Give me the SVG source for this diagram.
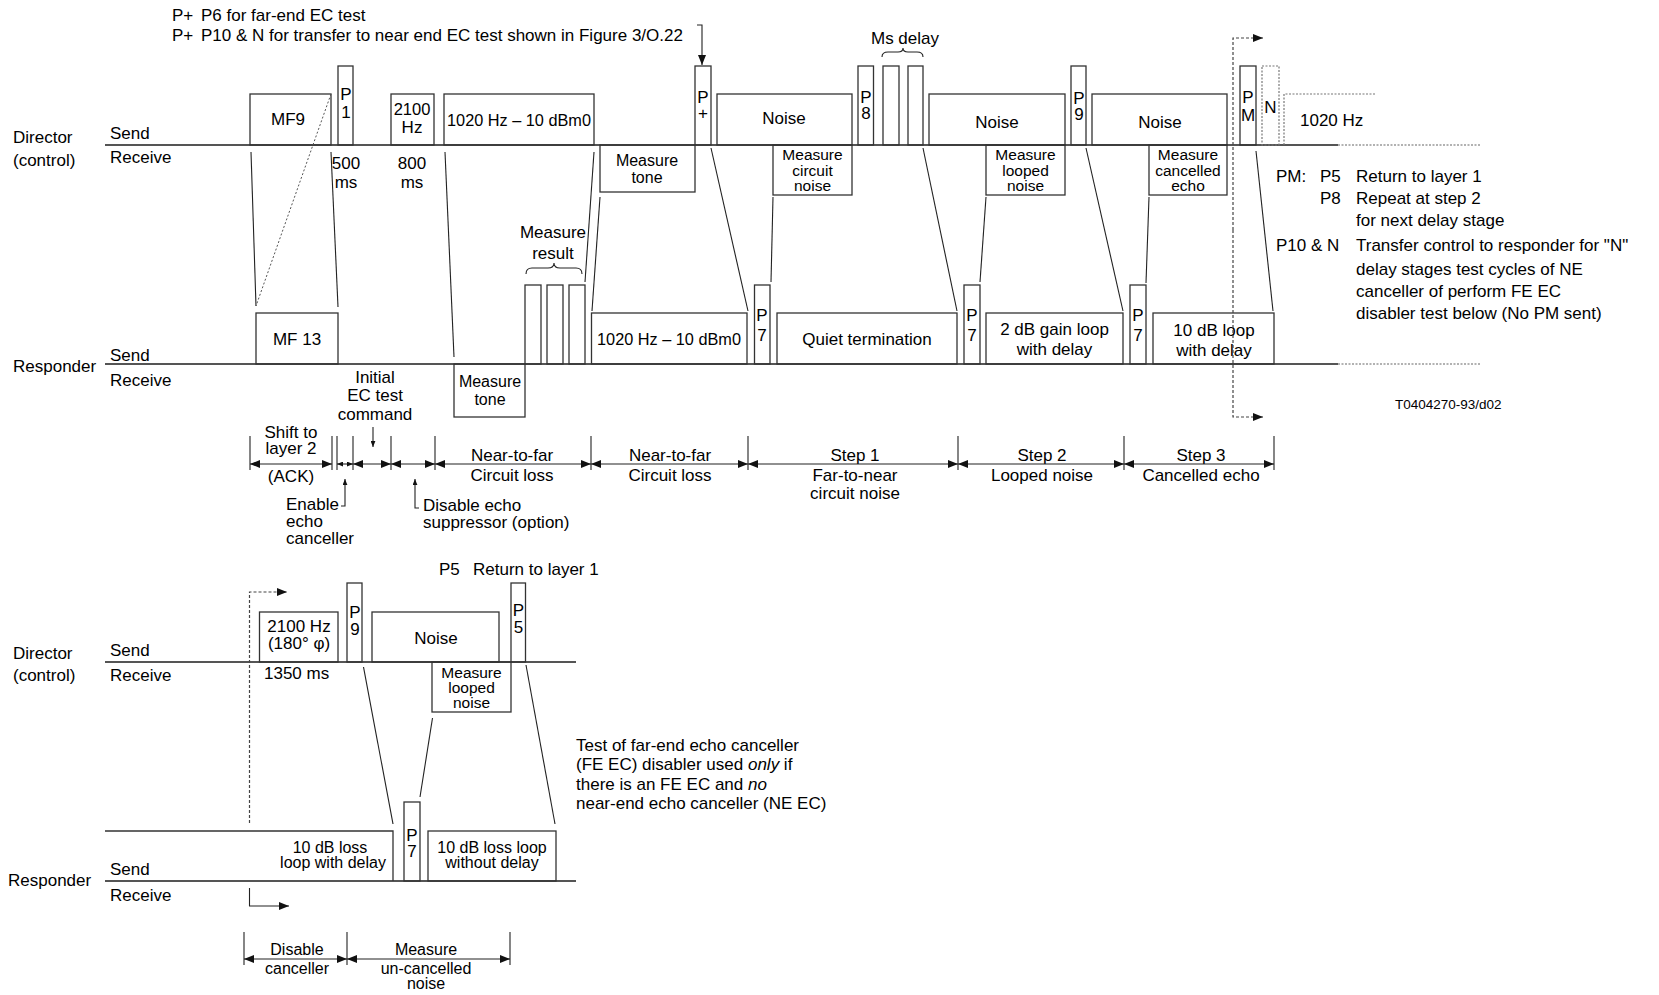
<svg xmlns="http://www.w3.org/2000/svg" width="1659" height="995" viewBox="0 0 1659 995">
<style>
text{font-family:"Liberation Sans",Arial,sans-serif;font-size:17px;fill:#000}
.m{text-anchor:middle}
.f16{font-size:16px}
.f15{font-size:15.5px}
.sm{font-size:13.5px}
.bx{fill:none;stroke:#333;stroke-width:1.3}
.dbx{fill:none;stroke:#777;stroke-width:1.2;stroke-dasharray:2 1.5}
.base{stroke:#555;stroke-width:2;fill:none}
.dbase{stroke:#999;stroke-width:1.5;stroke-dasharray:2 1.5;fill:none}
.ln{stroke:#222;stroke-width:1.1;fill:none}
.dot{stroke:#555;stroke-width:1;stroke-dasharray:2 2;fill:none}
.dash{stroke:#444;stroke-width:1.2;stroke-dasharray:3 2;fill:none}
.tk{stroke:#222;stroke-width:1.1}
.dim{stroke:#222;stroke-width:1.1;fill:none;marker-start:url(#ah);marker-end:url(#ah)}
.dims{stroke:#222;stroke-width:1.1;fill:none;marker-start:url(#ahs);marker-end:url(#ahs)}
</style>
<defs>
<marker id="ah" viewBox="0 0 10 8" refX="10" refY="4" markerWidth="10" markerHeight="8" markerUnits="userSpaceOnUse" orient="auto-start-reverse"><path d="M0,0L10,4L0,8z" fill="#111"/></marker>
<marker id="ahs" viewBox="0 0 10 8" refX="10" refY="4" markerWidth="6" markerHeight="5" markerUnits="userSpaceOnUse" orient="auto-start-reverse"><path d="M0,0L10,4L0,8z" fill="#111"/></marker>
</defs>
<rect width="1659" height="995" fill="#fff"/>

<!-- top notes -->
<g id="notes-top">
<text x="172" y="21">P+</text><text x="201" y="21">P6 for far-end EC test</text>
<text x="172" y="41">P+</text><text x="201" y="41">P10 &amp; N for transfer to near end EC test shown in Figure 3/O.22</text>
<text class="m" x="905" y="44">Ms delay</text>
<text class="m" x="553" y="238">Measure</text><text class="m" x="553" y="259">result</text>
</g>

<!-- labels -->
<g id="labels">
<text x="13" y="143">Director</text><text x="13" y="166">(control)</text>
<text x="110" y="139">Send</text><text x="110" y="163">Receive</text>
<text x="13" y="372">Responder</text>
<text x="110" y="361">Send</text><text x="110" y="386">Receive</text>
<text x="13" y="659">Director</text><text x="13" y="681">(control)</text>
<text x="110" y="656">Send</text><text x="110" y="681">Receive</text>
<text x="8" y="886">Responder</text>
<text x="110" y="875">Send</text><text x="110" y="901">Receive</text>
</g>

<!-- base lines -->
<g id="baselines">
<line class="base" x1="105" y1="145" x2="1338" y2="145"/>
<line class="dbase" x1="1338" y1="145" x2="1481" y2="145"/>
<line class="base" x1="105" y1="364" x2="1338" y2="364"/>
<line class="dbase" x1="1338" y1="364" x2="1481" y2="364"/>
<line class="base" x1="105" y1="662" x2="576" y2="662"/>
<line class="base" x1="105" y1="881" x2="576" y2="881"/>
</g>

<!-- director send nodes -->
<g id="mf9"><rect class="bx" x="250" y="94" width="81" height="51"/><text class="m" x="288" y="125">MF9</text></g>
<g id="p1"><rect class="bx" x="338" y="66" width="15" height="79"/><text class="m" x="346" y="100">P</text><text class="m" x="346" y="118">1</text>
<text class="m" x="346" y="169">500</text><text class="m" x="346" y="188">ms</text></g>
<g id="t2100"><rect class="bx" x="391" y="94" width="43" height="51"/><text class="m" x="412" y="115" style="font-size:16.5px">2100</text><text class="m" x="412" y="133">Hz</text>
<text class="m" x="412" y="169">800</text><text class="m" x="412" y="188">ms</text></g>
<g id="t1020d"><rect class="bx" x="444" y="94" width="150" height="51"/><text class="m" x="519" y="126" style="font-size:16.3px">1020 Hz – 10 dBm0</text></g>
<g id="pplus"><rect class="bx" x="695" y="66" width="16" height="79"/><text class="m" x="703" y="103">P</text><text class="m" x="703" y="119">+</text></g>
<g id="noise1"><rect class="bx" x="717" y="94" width="135" height="51"/><text class="m" x="784" y="124">Noise</text></g>
<g id="p8"><rect class="bx" x="858" y="66" width="15.5" height="79"/><text class="m" x="866" y="103">P</text><text class="m" x="866" y="119">8</text></g>
<g id="ms1"><rect class="bx" x="883" y="66" width="16" height="79"/></g>
<g id="ms2"><rect class="bx" x="908" y="66" width="15" height="79"/></g>
<g id="noise2"><rect class="bx" x="929" y="94" width="136" height="51"/><text class="m" x="997" y="128">Noise</text></g>
<g id="p9"><rect class="bx" x="1071" y="66" width="15" height="79"/><text class="m" x="1079" y="104">P</text><text class="m" x="1079" y="120">9</text></g>
<g id="noise3"><rect class="bx" x="1092" y="94" width="135" height="51"/><text class="m" x="1160" y="128">Noise</text></g>
<g id="pm"><rect class="bx" x="1240" y="66" width="16" height="79"/><text class="m" x="1248" y="103">P</text><text class="m" x="1248" y="121">M</text></g>
<g id="nbox"><rect class="dbx" x="1262" y="66" width="17" height="79"/><text class="m" x="1270.5" y="113">N</text></g>
<g id="t1020next"><path class="dbx" d="M1284,145V94H1375"/><text x="1300" y="126">1020 Hz</text></g>

<!-- director receive nodes -->
<g id="mtone1"><rect class="bx" x="600" y="145" width="95" height="47"/><text class="m f16" x="647" y="166">Measure</text><text class="m f16" x="647" y="183">tone</text></g>
<g id="mcirc"><rect class="bx" x="773" y="145" width="79" height="50"/><text class="m f15" x="812.5" y="160">Measure</text><text class="m f15" x="812.5" y="176">circuit</text><text class="m f15" x="812.5" y="191">noise</text></g>
<g id="mloop"><rect class="bx" x="986" y="145" width="79" height="50"/><text class="m f15" x="1025.5" y="160">Measure</text><text class="m f15" x="1025.5" y="176">looped</text><text class="m f15" x="1025.5" y="191">noise</text></g>
<g id="mcanc"><rect class="bx" x="1149" y="145" width="78" height="50"/><text class="m f15" x="1188" y="160">Measure</text><text class="m f15" x="1188" y="176">cancelled</text><text class="m f15" x="1188" y="191">echo</text></g>

<!-- responder nodes -->
<g id="mf13"><rect class="bx" x="256" y="313" width="82" height="51"/><text class="m" x="297" y="345">MF 13</text></g>
<g id="mr1"><rect class="bx" x="525" y="285" width="16" height="79"/></g>
<g id="mr2"><rect class="bx" x="547" y="285" width="16" height="79"/></g>
<g id="mr3"><rect class="bx" x="569" y="285" width="16" height="79"/></g>
<g id="t1020r"><rect class="bx" x="591.5" y="313" width="155.5" height="51"/><text class="m" x="669" y="345" style="font-size:16.3px">1020 Hz – 10 dBm0</text></g>
<g id="p7a"><rect class="bx" x="754.5" y="285" width="15.5" height="79"/><text class="m" x="762" y="321">P</text><text class="m" x="762" y="341">7</text></g>
<g id="quiet"><rect class="bx" x="777" y="313" width="180" height="51"/><text class="m" x="867" y="345">Quiet termination</text></g>
<g id="p7b"><rect class="bx" x="964" y="285" width="16" height="79"/><text class="m" x="972" y="321">P</text><text class="m" x="972" y="341">7</text></g>
<g id="gain2"><rect class="bx" x="986" y="313" width="137" height="51"/><text class="m" x="1054.5" y="335">2 dB gain loop</text><text class="m" x="1054.5" y="355">with delay</text></g>
<g id="p7c"><rect class="bx" x="1130" y="285" width="16" height="79"/><text class="m" x="1138" y="321">P</text><text class="m" x="1138" y="341">7</text></g>
<g id="loop10"><rect class="bx" x="1153" y="313" width="121" height="51"/><text class="m" x="1214" y="336">10 dB loop</text><text class="m" x="1214" y="356">with delay</text></g>
<g id="mtone2"><rect class="bx" x="454" y="364" width="71" height="53"/><text class="m f16" x="490" y="387">Measure</text><text class="m f16" x="490" y="405">tone</text></g>

<!-- PM legend -->
<g id="legend">
<text x="1276" y="182">PM:</text><text x="1320" y="182">P5</text><text x="1356" y="182">Return to layer 1</text>
<text x="1320" y="204">P8</text><text x="1356" y="204">Repeat at step 2</text>
<text x="1356" y="226">for next delay stage</text>
<text x="1276" y="251">P10 &amp; N</text><text x="1356" y="251">Transfer control to responder for "N"</text>
<text x="1356" y="275">delay stages test cycles of NE</text>
<text x="1356" y="297">canceller of perform FE EC</text>
<text x="1356" y="319">disabler test below (No PM sent)</text>
<text class="sm" x="1395" y="409">T0404270-93/d02</text>
</g>

<!-- phase annotations -->
<g id="phases">
<text class="m" x="375" y="383">Initial</text><text class="m" x="375" y="401">EC test</text><text class="m" x="375" y="420">command</text>
<text class="m" x="291" y="438">Shift to</text><text class="m" x="291" y="454">layer 2</text><text class="m" x="291" y="482">(ACK)</text>
<text x="286" y="510">Enable</text><text x="286" y="527">echo</text><text x="286" y="544">canceller</text>
<text x="423" y="511">Disable echo</text><text x="423" y="528">suppressor (option)</text>
<text class="m" x="512" y="461">Near-to-far</text><text class="m" x="512" y="481">Circuit loss</text>
<text class="m" x="670" y="461">Near-to-far</text><text class="m" x="670" y="481">Circuit loss</text>
<text class="m" x="855" y="461">Step 1</text><text class="m" x="855" y="481">Far-to-near</text><text class="m" x="855" y="499">circuit noise</text>
<text class="m" x="1042" y="461">Step 2</text><text class="m" x="1042" y="481">Looped noise</text>
<text class="m" x="1201" y="461">Step 3</text><text class="m" x="1201" y="481">Cancelled echo</text>
</g>

<!-- lower section nodes -->
<g id="lower-note"><text x="439" y="575">P5</text><text x="473" y="575">Return to layer 1</text></g>
<g id="l2100"><rect class="bx" x="259.5" y="612" width="78.5" height="50"/><text class="m" x="299" y="632">2100 Hz</text><text class="m" x="299" y="649">(180° φ)</text><text x="264" y="679">1350 ms</text></g>
<g id="lp9"><rect class="bx" x="347" y="583" width="15" height="79"/><text class="m" x="355" y="618">P</text><text class="m" x="355" y="635">9</text></g>
<g id="lnoise"><rect class="bx" x="372" y="612" width="127" height="50"/><text class="m" x="436" y="644">Noise</text></g>
<g id="lp5"><rect class="bx" x="511" y="583" width="14.5" height="79"/><text class="m" x="518.5" y="616">P</text><text class="m" x="518.5" y="633">5</text></g>
<g id="lmloop"><rect class="bx" x="432" y="662" width="79" height="50"/><text class="m f15" x="471.5" y="678">Measure</text><text class="m f15" x="471.5" y="693">looped</text><text class="m f15" x="471.5" y="708">noise</text></g>
<g id="lloss"><path class="bx" d="M105,831H393V881"/><text class="m f16" x="330" y="853">10 dB loss</text><text class="m f16" x="333" y="868">loop with delay</text></g>
<g id="lp7"><rect class="bx" x="404" y="802" width="16" height="79"/><text class="m" x="412" y="841">P</text><text class="m" x="412" y="857">7</text></g>
<g id="lloss2"><rect class="bx" x="428" y="831" width="128" height="50"/><text class="m f16" x="492" y="853">10 dB loss loop</text><text class="m f16" x="492" y="868">without delay</text></g>
<g id="fe-note">
<text x="576" y="751">Test of far-end echo canceller</text>
<text x="576" y="770">(FE EC) disabler used <tspan font-style="italic">only</tspan> if</text>
<text x="576" y="790">there is an FE EC and <tspan font-style="italic">no</tspan></text>
<text x="576" y="809">near-end echo canceller (NE EC)</text>
</g>
<g id="lower-phases">
<text class="m f16" x="297" y="955">Disable</text><text class="m f16" x="297" y="974">canceller</text>
<text class="m f16" x="426" y="955">Measure</text><text class="m f16" x="426" y="974">un-cancelled</text><text class="m f16" x="426" y="989">noise</text>
</g>

<!-- connectors -->
<g id="connectors">
<path class="ln" d="M697,25H702V65" marker-end="url(#ah)"/>
<path class="ln" d="M882,57Q882,52 888,52H898Q903,52 903,48Q903,52 908,52H917Q923,52 923,57"/>
<path class="ln" d="M526,274Q526,268 532,268H548Q554,268 554,263Q554,268 560,268H576Q582,268 582,274"/>
<line class="ln" x1="251" y1="152" x2="256" y2="306"/>
<line class="dot" x1="331" y1="94" x2="256" y2="306"/>
<line class="ln" x1="331" y1="152" x2="338" y2="307"/>
<line class="ln" x1="445" y1="152" x2="454" y2="357"/>
<line class="ln" x1="594" y1="152" x2="585" y2="282"/>
<line class="ln" x1="600" y1="197" x2="592" y2="311"/>
<line class="ln" x1="711" y1="148" x2="748" y2="311"/>
<line class="ln" x1="773" y1="197" x2="771" y2="282"/>
<line class="ln" x1="923" y1="148" x2="957" y2="311"/>
<line class="ln" x1="986" y1="197" x2="980" y2="282"/>
<line class="ln" x1="1086" y1="148" x2="1123" y2="311"/>
<line class="ln" x1="1149" y1="197" x2="1146" y2="283"/>
<line class="ln" x1="1256" y1="151" x2="1273" y2="311"/>
<path class="dash" d="M1233,230V38H1263" marker-end="url(#ah)"/>
<path class="dash" d="M1233,230V417H1263" marker-end="url(#ah)"/>
<line class="ln" x1="373" y1="427" x2="373" y2="447" marker-end="url(#ahs)"/>
<path class="ln" d="M341,506H345V479" marker-end="url(#ahs)"/>
<path class="ln" d="M419,508H415V479" marker-end="url(#ahs)"/>
<line class="tk" x1="250" y1="436" x2="250" y2="470"/>
<line class="tk" x1="332" y1="436" x2="332" y2="470"/>
<line class="tk" x1="337" y1="436" x2="337" y2="470"/>
<line class="tk" x1="353" y1="436" x2="353" y2="470"/>
<line class="tk" x1="391" y1="436" x2="391" y2="470"/>
<line class="tk" x1="435" y1="436" x2="435" y2="470"/>
<line class="tk" x1="591" y1="436" x2="591" y2="470"/>
<line class="tk" x1="748" y1="436" x2="748" y2="470"/>
<line class="tk" x1="958" y1="436" x2="958" y2="470"/>
<line class="tk" x1="1124" y1="436" x2="1124" y2="470"/>
<line class="tk" x1="1274" y1="436" x2="1274" y2="470"/>
<line class="dim" x1="250" y1="464" x2="332" y2="464"/>
<line class="dims" x1="337" y1="464" x2="353" y2="464"/>
<line class="dim" x1="353" y1="464" x2="391" y2="464"/>
<line class="dim" x1="391" y1="464" x2="435" y2="464"/>
<line class="dim" x1="435" y1="464" x2="591" y2="464"/>
<line class="dim" x1="591" y1="464" x2="748" y2="464"/>
<line class="dim" x1="748" y1="464" x2="958" y2="464"/>
<line class="dim" x1="958" y1="464" x2="1124" y2="464"/>
<line class="dim" x1="1124" y1="464" x2="1274" y2="464"/>
<line class="ln" x1="363.5" y1="667" x2="393" y2="824"/>
<line class="ln" x1="432.5" y1="718" x2="420" y2="797"/>
<line class="ln" x1="526" y1="665" x2="555" y2="824"/>
<path class="dash" d="M249.5,823V592H287" marker-end="url(#ah)"/>
<path class="ln" d="M249.5,888V906H289" marker-end="url(#ah)"/>
<line class="tk" x1="244" y1="932" x2="244" y2="965"/>
<line class="tk" x1="347" y1="932" x2="347" y2="965"/>
<line class="tk" x1="510" y1="932" x2="510" y2="965"/>
<line class="dim" x1="244" y1="959" x2="347" y2="959"/>
<line class="dim" x1="347" y1="959" x2="510" y2="959"/>
</g>
</svg>
